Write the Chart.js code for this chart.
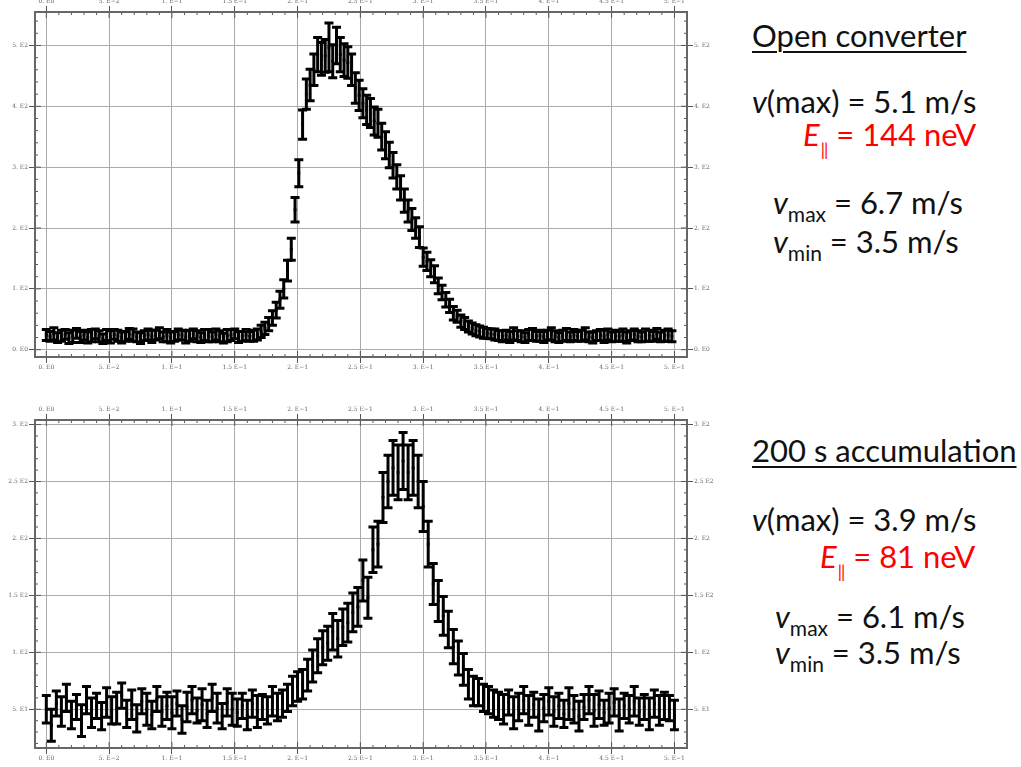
<!DOCTYPE html>
<html>
<head>
<meta charset="utf-8">
<script src="https://cdn.jsdelivr.net/npm/chart.js@4.4.1/dist/chart.umd.min.js"></script>
<style>
body { margin: 0; background: #fff; width: 1021px; height: 767px; overflow: hidden; position: relative; font-family: Lato, sans-serif; }
canvas { position: absolute; left: 0; }
#top { top: 0; }
#bot { top: 400px; }
.t { position: absolute; font-size: 31px; line-height: 30px; white-space: nowrap; color: #111; }
.u { text-decoration: underline; text-decoration-thickness: 2px; text-underline-offset: 4px; }
.red { color: #f00; }
.sub { font-size: 21px; position: relative; top: 8px; }
.bar { font-size: 17px; position: relative; top: 10px; letter-spacing: -1px; margin-left: 1px; margin-right: 9px; }
</style>
</head>
<body>
<canvas id="top" width="720" height="375"></canvas>
<canvas id="bot" width="720" height="367"></canvas>

<div class="t u" style="left:752px; top:20px">Open converter</div>
<div class="t" style="left:752px; top:86px"><i>v</i>(max) = 5.1 m/s</div>
<div class="t red" style="left:803px; top:119px"><i>E</i><span class="bar">||</span>= 144 neV</div>
<div class="t" style="left:773px; top:187px"><i>v</i><span class="sub">max</span> = 6.7 m/s</div>
<div class="t" style="left:773px; top:226px"><i>v</i><span class="sub">min</span> = 3.5 m/s</div>

<div class="t u" style="left:752px; top:435px">200 s accumulation</div>
<div class="t" style="left:752px; top:504px"><i>v</i>(max) = 3.9 m/s</div>
<div class="t red" style="left:820px; top:541px"><i>E</i><span class="bar">||</span>= 81 neV</div>
<div class="t" style="left:775px; top:601px"><i>v</i><span class="sub">max</span> = 6.1 m/s</div>
<div class="t" style="left:775px; top:637px"><i>v</i><span class="sub">min</span> = 3.5 m/s</div>

<script>
'use strict';

// ---- axis ticks ----
const xTickValues = [0, 0.05, 0.1, 0.15, 0.2, 0.25, 0.3, 0.35, 0.4, 0.45, 0.5];
const xTickLabels = ['0. E0', '5. E\u22122', '1. E\u22121', '1.5 E\u22121', '2. E\u22121', '2.5 E\u22121',
    '3. E\u22121', '3.5 E\u22121', '4. E\u22121', '4.5 E\u22121', '5. E\u22121'];
const yTopTickValues = [0, 100, 200, 300, 400, 500];
const yTopTickLabels = ['0. E0', '1. E2', '2. E2', '3. E2', '4. E2', '5. E2'];
const yBotTickValues = [50, 100, 150, 200, 250, 300];
const yBotTickLabels = ['5. E1', '1. E2', '1.5 E2', '2. E2', '2.5 E2', '3. E2'];

// ---- open converter (time in ms, counts, error) ----
const tTop = [0,3,6,9,12,15,18,21,24,27,30,33,36,39,42,45,48,51,54,57,60,63,66,69,72,75,78,81,84,87,
    90,93,96,99,102,105,108,111,114,117,120,123,126,129,132,135,138,141,144,147,150,153,156,159,
    162,165,168,171,174,177,180,183,186,189,192,195,198,201,204,207,210,213,216,219,222,225,228,231,
    234,237,240,243,246,249,252,255,258,261,264,267,270,273,276,279,282,285,288,291,294,297,300,303,
    306,309,312,315,318,321,324,327,330,333,336,339,342,345,348,351,354,
    357,360,363,366,369,372,375,378,381,384,387,390,393,396,399,402,405,408,411,414,417,420,423,426,
    429,432,435,438,441,444,447,450,453,456,459,462,465,468,471,474,477,480,483,486,489,492,495,498];
const countTop = [24,22,26,20,23,25,19,22,27,21, 24,20,23,26,22,18,24,21,25,23, 20,22,26,24,21,19,23,25,22,24,
    27,21,23,20,22,25,24,21,23,26, 22,20,24,23,21,25,22,19,23,24, 26,21,22,24,
    22,23,25,30,35,42,52,65,82,100, 130,165,230,290,370,420,435,460,485,478,
    483,497,474,500,485,476,472,460,430,418, 405,394,389,376,372,350,336,320,303,284,
    266,245,228,214,200,185,152,145,134,124, 105,94,82,72,60,55,47,43,38,35, 32,30,28,27,26,
    25,23,22,24,21,26,23,22,20,24, 25,22,23,21,24,26,22,20,23,25, 21,24,22,23,26,21,20,23,24,22,
    25,21,23,22,24,20,23,25,22,21, 24,23,22,26,21,23,24,22];
const errTop = [9,8,10,8,9,8,9,10,8,9, 8,9,10,8,9,8,9,10,8,9, 9,8,9,10,8,9,8,9,10,8,
    9,8,10,9,8,9,8,10,9,8, 9,8,9,10,8,9,9,8,10,9, 8,9,8,9,
    8,9,9,10,10,11,12,13,14,15, 17,18,20,22,24,25,26,26,28,27,
    27,40,27,30,28,27,26,26,25,25, 24,24,24,23,23,22,22,21,21,20,
    20,19,18,18,17,17,15,15,14,14, 13,12,12,11,11,10,10,10,9,9, 9,9,9,8,8,
    9,8,9,8,9,10,8,9,8,9, 10,8,9,9,8,10,9,8,9,10, 8,9,8,9,10,8,9,8,9,10,
    9,8,9,8,10,9,8,9,9,8, 10,9,8,9,8,9,10,9];

// ---- 200 s accumulation ----
const tBot = [0,4,8,12,16,20,24,28,32,36,40,44,48,52,56,60,64,68,72,76,80,84,88,92,96,100,104,108,112,116,
    120,124,128,132,136,140,144,148,152,156,160,164,168,172,176,180,
    184,188,192,196,200,204,208,212,216,220,224,228,232,236,240,244,248,252,256,260,264,268,272,276,
    280,284,288,292,296,300,304,308,312,316,320,324,328,332,336,340,344,348,352,356,
    360,364,368,372,376,380,384,388,392,396,400,404,408,412,416,420,424,428,432,436,440,444,448,452,
    456,460,464,468,472,476,480,484,488,492,496,500];
const countBot = [50,36,55,48,60,45,52,40,58,47, 53,44,56,49,51,62,46,54,42,57, 50,45,59,48,53,47,55,41,52,58,
    49,54,46,60,51,44,56,50,47,53, 45,55,48,52,49,57,
    52,55,60,66,70,72,80,88,97,104, 108,118,112,122,126,135,140,163,148,190,
    195,236,250,262,258,268,258,262,250,228, 195,160,145,132,120,105,95,85,72,66, 65,60,58,55,
    53,50,56,47,52,58,49,54,45,51, 57,48,53,46,55,50,44,52,58,49, 54,47,51,56,45,53,50,57,48,52,
    46,55,49,53,51,45];
const errBot = [12,14,11,13,12,12,11,14,12,13, 11,12,13,12,14,11,12,13,12,11, 14,12,11,13,12,14,11,12,13,12,
    11,14,12,12,13,11,12,14,12,11, 13,12,14,11,12,13,
    12,12,12,13,13,13,14,14,15,15, 15,16,16,16,17,17,17,18,18,20,
    20,22,23,24,24,25,24,24,23,22, 20,18,18,17,16,15,15,14,13,13, 12,12,12,12,
    12,13,11,14,12,12,13,11,14,12, 12,13,11,12,14,12,13,11,12,14, 12,11,13,12,14,11,12,13,12,11,
    14,12,13,12,11,13];

// ================= plugins =================

const errorBars = {
    id: 'errorBars',
    afterDatasetsDraw(chart, args, opts) {
        const ctx = chart.ctx;
        const xs = chart.scales.x, ys = chart.scales.y, a = chart.chartArea;
        ctx.save();
        ctx.beginPath();
        ctx.rect(a.left, a.top, a.right - a.left, a.bottom - a.top);
        ctx.clip();
        ctx.strokeStyle = '#000';
        ctx.lineWidth = 3;
        chart.data.datasets[0].data.forEach((p, i) => {
            const x = xs.getPixelForValue(p.x);
            const lo = ys.getPixelForValue(p.y - opts.err[i]);
            const hi = ys.getPixelForValue(p.y + opts.err[i]);
            ctx.beginPath();
            ctx.moveTo(x, lo); ctx.lineTo(x, hi);
            ctx.moveTo(x - 4.5, lo); ctx.lineTo(x + 4.5, lo);
            ctx.moveTo(x - 4.5, hi); ctx.lineTo(x + 4.5, hi);
            ctx.stroke();
        });
        ctx.restore();
    }
};

// frame + inner major/minor ticks, Mathematica style
const frame = {
    id: 'frame',
    afterDraw(chart, args, opts) {
        const ctx = chart.ctx;
        const xs = chart.scales.x, ys = chart.scales.y, a = chart.chartArea;
        ctx.save();
        ctx.strokeStyle = '#555';
        ctx.lineWidth = 1;
        ctx.beginPath();
        for (let k = 0; k <= 51; k++) {
            const px = xs.getPixelForValue(k / 100);
            const len = k % 5 === 0 ? 6 : 3;
            ctx.moveTo(px, a.bottom); ctx.lineTo(px, a.bottom - len);
            ctx.moveTo(px, a.top); ctx.lineTo(px, a.top + len);
        }
        for (let v = opts.yStart; v <= ys.max; v += opts.yMinor) {
            const py = ys.getPixelForValue(v);
            const len = v % opts.yMajor === 0 ? 6 : 3;
            ctx.moveTo(a.left, py); ctx.lineTo(a.left + len, py);
            ctx.moveTo(a.right, py); ctx.lineTo(a.right - len, py);
        }
        ctx.stroke();
        ctx.strokeStyle = '#666';
        ctx.lineWidth = 2;
        ctx.strokeRect(a.left, a.top, a.right - a.left, a.bottom - a.top);
        ctx.restore();
    }
};

// ================= chart builder =================

const tickFont = { family: 'DejaVu Serif', size: 6 };

function axis(pos, vals, labels, min, max, size, onArea) {
    const horiz = pos === 'top' || pos === 'bottom';
    return {
        type: 'linear',
        axis: horiz ? 'x' : 'y',
        position: pos,
        min: min,
        max: max,
        afterBuildTicks: s => { s.ticks = vals.map(v => ({ value: v })); },
        afterFit: s => { if (horiz) s.height = size; else s.width = size; },
        ticks: {
            callback: (v, i) => labels[i],
            font: tickFont,
            color: '#666',
            padding: 1,
            autoSkip: false,
            maxRotation: 0
        },
        grid: {
            drawOnChartArea: onArea,
            color: '#aaa',
            lineWidth: 1,
            tickLength: 6,
            tickColor: '#555',
            tickWidth: 1
        },
        border: { display: false }
    };
}

function makeChart(id, times, counts, errs, yMin, yMax, yVals, yLabels, yMinor, yMajor, yStart, topH, botH) {
    const pts = times.map((t, i) => ({ x: t / 1000, y: counts[i] }));
    return new Chart(document.getElementById(id), {
        type: 'scatter',
        data: {
            datasets: [{
                data: pts,
                pointRadius: 2,
                pointStyle: 'rect',
                backgroundColor: '#000',
                borderColor: '#000',
                borderWidth: 0
            }]
        },
        options: {
            responsive: false,
            animation: false,
            layout: { padding: 0 },
            plugins: {
                legend: { display: false },
                tooltip: { enabled: false },
                errorBars: { err: errs },
                frame: { yMinor: yMinor, yMajor: yMajor, yStart: yStart }
            },
            scales: {
                x: axis('bottom', xTickValues, xTickLabels, -0.009, 0.51, botH, true),
                x2: axis('top', xTickValues, xTickLabels, -0.009, 0.51, topH, false),
                y: axis('left', yVals, yLabels, yMin, yMax, 35, true),
                y2: axis('right', yVals, yLabels, yMin, yMax, 33, false)
            }
        },
        plugins: [errorBars, frame]
    });
}

makeChart('top', tTop, countTop, errTop, -12, 555, yTopTickValues, yTopTickLabels, 20, 100, 0, 12, 18);
makeChart('bot', tBot, countBot, errBot, 16, 304, yBotTickValues, yBotTickLabels, 10, 50, 20, 20, 19);
</script>
</body>
</html>
